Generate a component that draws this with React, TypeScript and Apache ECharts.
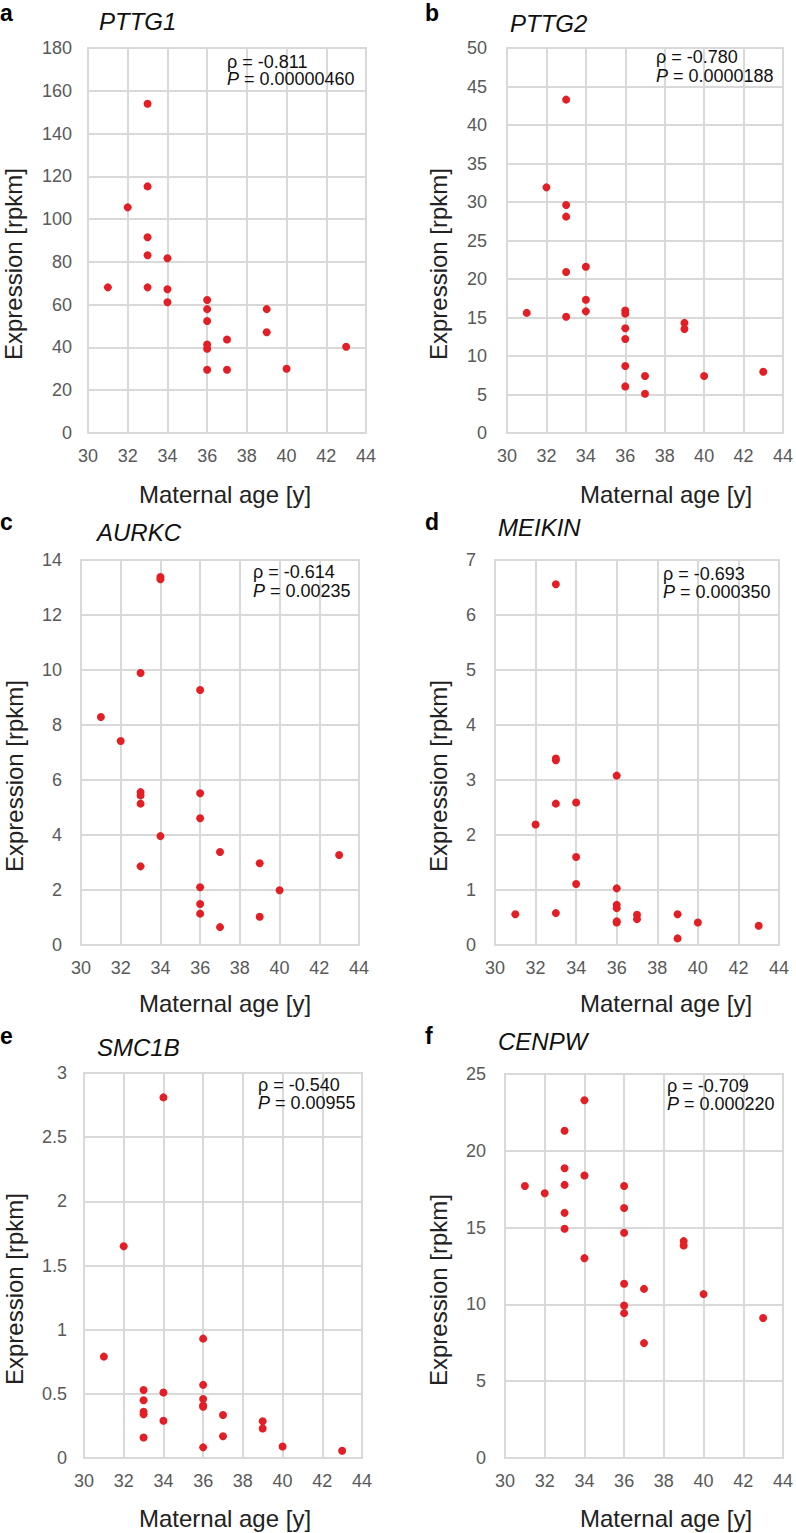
import React, { useEffect, useRef } from "react";
import * as echarts from "echarts";

// ---------- data ----------
const ages = [31, 32, 33, 33, 33, 33, 33, 34, 34, 34, 36, 36, 36, 36, 36, 36, 37, 37, 39, 39, 40, 43];

const pttg1 = [68.1, 105.5, 153.9, 115.3, 91.5, 83.1, 68.1, 81.7, 67.2, 61.1, 62.2, 57.9, 52.4, 41.4, 39.4, 29.6, 43.7, 29.6, 57.9, 47.1, 30.0, 40.3];
const pttg2 = [15.6, 31.9, 43.3, 29.6, 28.1, 20.9, 15.1, 21.6, 17.3, 15.8, 15.9, 15.5, 13.6, 12.2, 8.7, 6.05, 7.4, 5.1, 14.3, 13.5, 7.4, 7.95];
const aurkc = [8.29, 7.42, 9.89, 5.56, 5.44, 5.14, 2.86, 13.38, 13.3, 3.96, 9.27, 5.52, 4.61, 2.1, 1.49, 1.14, 3.38, 0.65, 2.97, 1.03, 1.99, 3.27];
const meikin = [0.56, 2.19, 6.56, 3.39, 3.36, 2.57, 0.58, 2.59, 1.6, 1.11, 3.08, 1.03, 0.73, 0.67, 0.43, 0.41, 0.55, 0.47, 0.56, 0.12, 0.41, 0.35];
const smc1b = [0.79, 1.65, 0.53, 0.45, 0.36, 0.34, 0.16, 2.81, 0.51, 0.29, 0.93, 0.57, 0.46, 0.41, 0.4, 0.083, 0.335, 0.17, 0.286, 0.23, 0.09, 0.057];
const cenpw = [17.71, 17.24, 21.31, 18.86, 17.78, 15.96, 14.92, 23.29, 18.39, 13.01, 17.71, 16.28, 14.66, 11.34, 9.93, 9.43, 11.01, 7.48, 14.12, 13.83, 10.67, 9.11];

const geneNames = ["PTTG1", "PTTG2", "AURKC", "MEIKIN", "SMC1B", "CENPW"];
const panelLetters = ["a", "b", "c", "d", "e", "f"];
const rhoLabels = ["-0.811", "-0.780", "-0.614", "-0.693", "-0.540", "-0.709"];
const pLabels = ["0.00000460", "0.0000188", "0.00235", "0.000350", "0.00955", "0.000220"];
const yMax = [180, 50, 14, 7, 3, 25];
const yStep = [20, 5, 2, 1, 0.5, 5];
const xMin = 30;
const xMax = 44;
const xStep = 2;
const xTitle = "Maternal age [y]";
const yTitle = "Expression [rpkm]";
const seriesValues = [pttg1, pttg2, aurkc, meikin, smc1b, cenpw];

// ---------- layout ----------
const layout = [
  { grid: [88, 48, 278, 385], lm: 16, letter: [0, 13], title: [99, 21], yT: [13, 264], xT: [225, 494], ann: [227, 62, 79] },
  { grid: [507, 48, 278, 385], lm: 20, letter: [425, 13], title: [510, 23], yT: [438, 264], xT: [666, 494], ann: [656, 57, 76] },
  { grid: [81, 560, 278, 385], lm: 19, letter: [0, 522], title: [97, 532], yT: [14, 776], xT: [225, 1003], ann: [253, 572, 591] },
  { grid: [495, 560, 284, 385], lm: 19, letter: [425, 522], title: [498, 527], yT: [438, 776], xT: [666, 1003], ann: [663, 574, 592] },
  { grid: [84, 1073, 278, 385], lm: 17, letter: [0, 1036], title: [97, 1047], yT: [14, 1289], xT: [225, 1518], ann: [258, 1085, 1103] },
  { grid: [505, 1074, 279, 384], lm: 19, letter: [425, 1036], title: [498, 1041], yT: [438, 1290], xT: [666, 1518], ann: [667, 1086, 1104] },
];

const FONT = '"Liberation Sans", Arial, Helvetica, sans-serif';
const GRID_COLOR = "#D9D9D9";
const DOT_COLOR = "#E41E25";

export default function App() {
  const ref = useRef<HTMLDivElement>(null);
  useEffect(() => {
    if (!ref.current) return;
    const chart = echarts.init(ref.current, undefined, { renderer: "svg" });

    const grids: any[] = [];
    const xAxes: any[] = [];
    const yAxes: any[] = [];
    const series: any[] = [];
    const graphics: any[] = [];

    layout.forEach((L, i) => {
      const [left, top, width, height] = L.grid;
      grids.push({ left, top, width, height, show: true, borderColor: GRID_COLOR, borderWidth: 2, containLabel: false });
      xAxes.push({
        type: "value",
        gridIndex: i,
        min: xMin,
        max: xMax,
        interval: xStep,
        axisLine: { show: true, lineStyle: { color: GRID_COLOR, width: 2 } },
        axisTick: { show: false },
        splitLine: { show: true, lineStyle: { color: GRID_COLOR, width: 2 } },
        axisLabel: { color: "#595959", fontSize: 18, fontFamily: FONT, margin: 14 },
      });
      yAxes.push({
        type: "value",
        gridIndex: i,
        min: 0,
        max: yMax[i],
        interval: yStep[i],
        axisLine: { show: true, lineStyle: { color: GRID_COLOR, width: 2 } },
        axisTick: { show: false },
        splitLine: { show: true, lineStyle: { color: GRID_COLOR, width: 2 } },
        axisLabel: { color: "#595959", fontSize: 18, fontFamily: FONT, margin: L.lm },
      });
      series.push({
        type: "scatter",
        xAxisIndex: i,
        yAxisIndex: i,
        symbol: "circle",
        symbolSize: 8,
        itemStyle: { color: DOT_COLOR, opacity: 1 },
        data: ages.map((a, k) => [a, seriesValues[i][k]]),
      });

      graphics.push(
        {
          type: "text",
          x: L.letter[0],
          y: L.letter[1],
          style: { text: panelLetters[i], fontSize: 23, fontWeight: "bold", fontFamily: FONT, fill: "#000", textAlign: "left", textVerticalAlign: "middle" },
        },
        {
          type: "text",
          x: L.title[0],
          y: L.title[1],
          style: { text: geneNames[i], fontSize: 24, fontStyle: "italic", fontFamily: FONT, fill: "#111", textAlign: "left", textVerticalAlign: "middle" },
        },
        {
          type: "text",
          x: L.yT[0],
          y: L.yT[1],
          rotation: Math.PI / 2,
          style: { text: yTitle, fontSize: 24, fontFamily: FONT, fill: "#222", textAlign: "center", textVerticalAlign: "middle" },
        },
        {
          type: "text",
          x: L.xT[0],
          y: L.xT[1],
          style: { text: xTitle, fontSize: 24, fontFamily: FONT, fill: "#222", textAlign: "center", textVerticalAlign: "middle" },
        },
        {
          type: "text",
          x: L.ann[0],
          y: L.ann[1],
          z: 10,
          style: { text: "ρ = " + rhoLabels[i], fontSize: 18, fontFamily: FONT, fill: "#111", textAlign: "left", textVerticalAlign: "middle" },
        },
        {
          type: "text",
          x: L.ann[0],
          y: L.ann[2],
          z: 10,
          style: {
            text: "{i|P} = " + pLabels[i],
            fontSize: 18,
            fontFamily: FONT,
            fill: "#111",
            textAlign: "left",
            textVerticalAlign: "middle",
            rich: { i: { fontStyle: "italic", fontSize: 18, fontFamily: FONT, fill: "#111" } },
          },
        }
      );
    });

    chart.setOption({
      animation: false,
      backgroundColor: "#fff",
      grid: grids,
      xAxis: xAxes,
      yAxis: yAxes,
      series,
      graphic: { elements: graphics },
    });
    return () => chart.dispose();
  }, []);

  return (
    <div
      ref={ref}
      style={{ position: "absolute", left: 0, top: 0, width: 796, height: 1533, background: "#fff" }}
    />
  );
}
